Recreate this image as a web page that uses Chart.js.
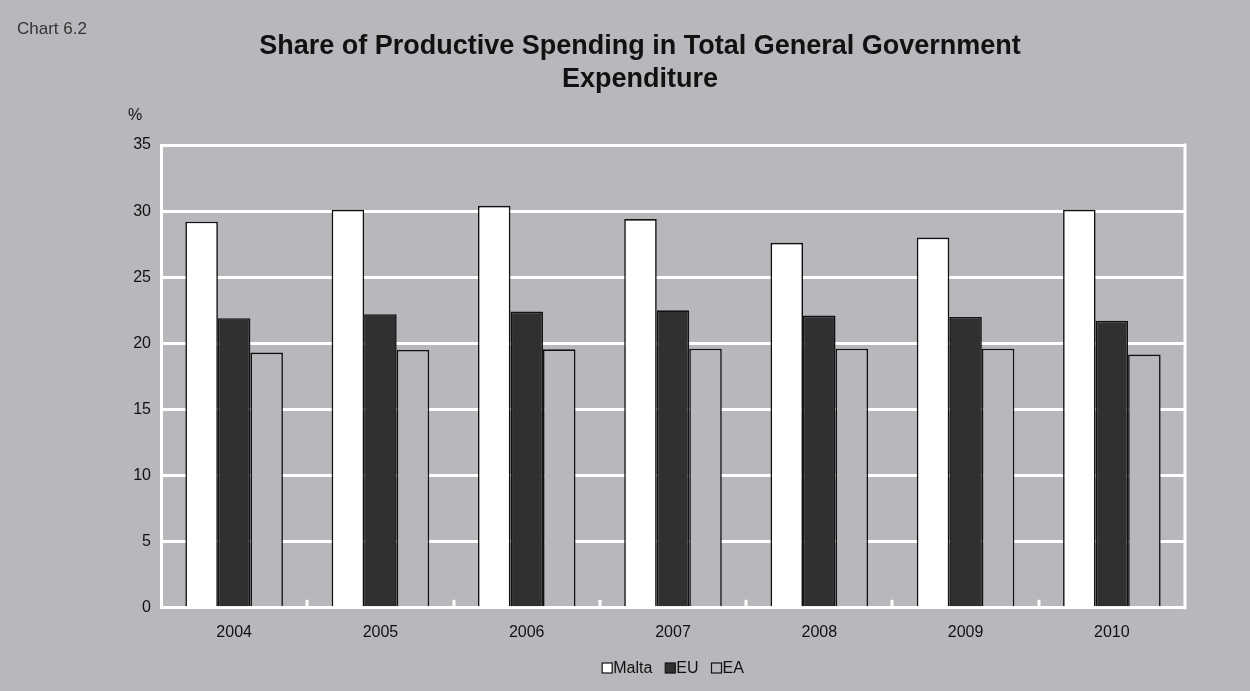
<!DOCTYPE html>
<html>
<head>
<meta charset="utf-8">
<script src="https://cdn.jsdelivr.net/npm/chart.js@4"></script>
<style>
  body { margin: 0; background: #b7b8bb; }
  canvas { display: block; }
</style>
</head>
<body>
<canvas id="js--chart-6-2" width="1250" height="691"></canvas>
<script>
const years = ["2004", "2005", "2006", "2007", "2008", "2009", "2010"];
const malta = [29.2, 30.1, 30.4, 29.4, 27.6, 28.0, 30.1];
const eu = [21.9, 22.2, 22.4, 22.5, 22.1, 22.0, 21.7];
const ea = [19.3, 19.5, 19.55, 19.6, 19.6, 19.6, 19.15];
const yMin = 0;
const yMax = 35;
const yStep = 5;

const bg = '#b7b8bb';
const ink = '#111111';
const fontFamily = 'Arial, "Liberation Sans", sans-serif';

// background, titles, frame, year ticks and the legend row
const extras = {
    id: 'extras',
    beforeDraw(chart) {
        const ctx = chart.ctx;
        ctx.save();
        ctx.fillStyle = bg;
        ctx.fillRect(0, 0, chart.width, chart.height);
        ctx.textBaseline = 'alphabetic';
        ctx.fillStyle = '#333';
        ctx.font = '17px ' + fontFamily;
        ctx.fillText('Chart 6.2', 17, 34);
        ctx.fillStyle = ink;
        ctx.font = '16px ' + fontFamily;
        ctx.fillText('%', 128, 120);
        ctx.font = 'bold 27px ' + fontFamily;
        ctx.textAlign = 'center';
        ctx.fillText('Share of Productive Spending in Total General Government', 640, 54);
        ctx.fillText('Expenditure', 640, 87);
        ctx.restore();
    },
    afterDatasetsDraw(chart) {
        const ctx = chart.ctx;
        const area = chart.chartArea;
        const x = chart.scales.x;
        ctx.save();
        ctx.strokeStyle = '#ffffff';
        ctx.lineWidth = 3;
        ctx.beginPath();
        ctx.moveTo(area.right, area.top - 1.5);
        ctx.lineTo(area.right, area.bottom + 1.5);
        ctx.stroke();
        const half = (x.getPixelForValue(1) - x.getPixelForValue(0)) / 2;
        for (let i = 0; i < years.length - 1; i++) {
            const px = Math.round(x.getPixelForValue(i) + half);
            ctx.beginPath();
            ctx.moveTo(px, area.bottom);
            ctx.lineTo(px, area.bottom - 8);
            ctx.stroke();
        }

        // legend: small boxes hugging their labels, centred under the plot
        const box = 10;
        const gap = 1;
        const spacing = 13;
        ctx.font = '16px ' + fontFamily;
        ctx.textBaseline = 'middle';
        const items = chart.data.datasets.map(ds => ({
            ds: ds,
            w: box + gap + ctx.measureText(ds.label).width
        }));
        const total = items.reduce((s, it) => s + it.w, 0) + spacing * (items.length - 1);
        let cx = (area.left + area.right) / 2 - total / 2;
        const cy = 668;
        items.forEach(it => {
            ctx.fillStyle = it.ds.backgroundColor;
            ctx.fillRect(cx, cy - box / 2, box, box);
            ctx.strokeStyle = ink;
            ctx.lineWidth = 1.2;
            ctx.strokeRect(cx, cy - box / 2, box, box);
            ctx.fillStyle = ink;
            ctx.fillText(it.ds.label, cx + box + gap, cy + 1);
            cx += it.w + spacing;
        });
        ctx.restore();
    }
};

const barStyle = {
    borderColor: ink,
    borderWidth: 1.6,
    categoryPercentage: 0.667,
    barPercentage: 1
};

const config = {
    type: 'bar',
    data: {
        labels: years,
        datasets: [
            { label: 'Malta', data: malta, backgroundColor: '#ffffff', ...barStyle },
            { label: 'EU', data: eu, backgroundColor: '#2f3032', ...barStyle },
            { label: 'EA', data: ea, backgroundColor: bg, ...barStyle }
        ]
    },
    options: {
        responsive: false,
        animation: false,
        layout: { padding: { top: 145, right: 65, bottom: 42, left: 0 } },
        plugins: {
            title: { display: false },
            tooltip: { enabled: false },
            legend: { display: false }
        },
        scales: {
            x: {
                grid: { display: false },
                border: { color: '#ffffff', width: 3 },
                ticks: {
                    color: ink,
                    padding: 7,
                    font: { size: 16, family: fontFamily }
                }
            },
            y: {
                min: yMin,
                max: yMax,
                grid: { color: '#ffffff', lineWidth: 3, drawTicks: false },
                border: { color: '#ffffff', width: 3 },
                ticks: {
                    stepSize: yStep,
                    color: ink,
                    padding: 10,
                    font: { size: 16, family: fontFamily }
                },
                afterFit(scale) { scale.width = 161; }
            }
        }
    },
    plugins: [extras]
};

const chart1 = new Chart(document.getElementById("js--chart-6-2"), config);
</script>
</body>
</html>
